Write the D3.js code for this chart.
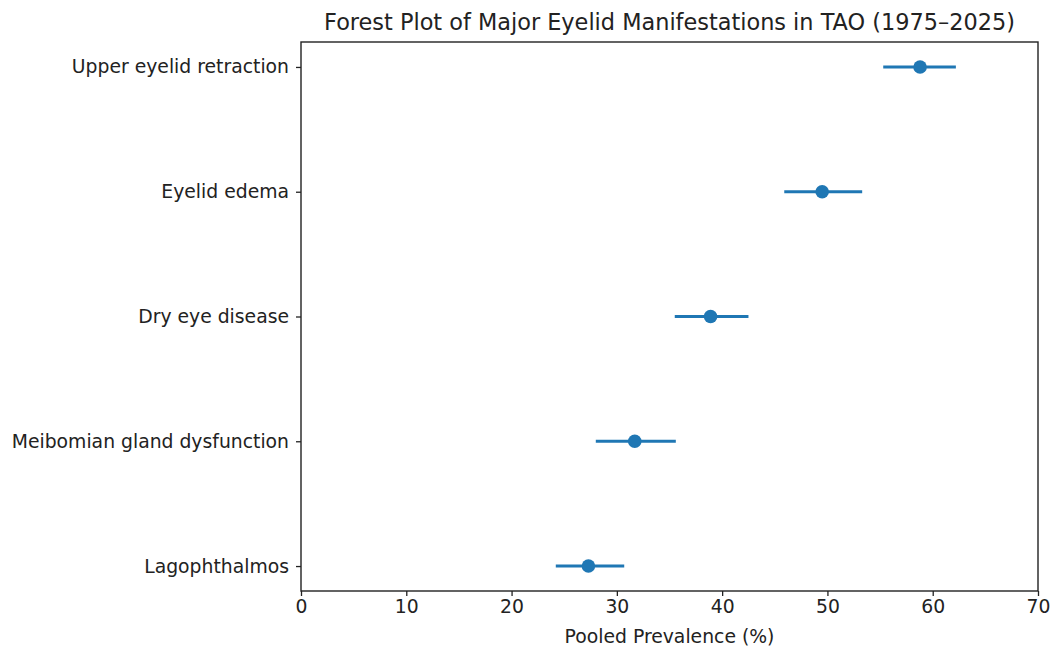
<!DOCTYPE html>
<html><head><meta charset="utf-8">
<script src="https://cdn.jsdelivr.net/npm/d3@7"></script>
<style>body{margin:0;background:#fff}svg{display:block}</style>
</head><body>
<script>
const categories = ["Lagophthalmos","Meibomian gland dysfunction","Dry eye disease","Eyelid edema","Upper eyelid retraction"];
const estimates = [27.3, 31.7, 38.9, 49.5, 58.8];
const lower = [24.2, 28.0, 35.5, 45.9, 55.3];
const upper = [30.7, 35.6, 42.5, 53.3, 62.2];
const xTicks = [0,10,20,30,40,50,60,70];
const title = "Forest Plot of Major Eyelid Manifestations in TAO (1975–2025)";
const xLabel = "Pooled Prevalence (%)";

const W=1052,H=648;
const m={left:301,right:1052-1038,top:42,bottom:648-591};
const svg=d3.select("body").append("svg").attr("width",W).attr("height",H)
  .style("font-family","DejaVu Sans");
const x=d3.scaleLinear().domain([0,70]).range([m.left,W-m.right]);
const y=d3.scaleLinear().domain([-0.2,4.2]).range([H-m.bottom,m.top]);
const color="#1f77b4";
const ink="#222";

const xa=svg.append("g").attr("transform",`translate(0,${H-m.bottom})`)
  .call(d3.axisBottom(x).tickValues(xTicks).tickSize(5).tickPadding(4));
xa.selectAll("text").attr("font-size","18.8px").attr("fill",ink).attr("font-family","DejaVu Sans");
xa.selectAll("line").attr("stroke",ink).attr("stroke-width",1.3);
xa.select(".domain").remove();

const ya=svg.append("g").attr("transform",`translate(${m.left},0)`)
  .call(d3.axisLeft(y).tickValues(d3.range(categories.length)).tickFormat(i=>categories[i]).tickSize(5).tickPadding(7));
ya.selectAll("text").attr("font-size","18.8px").attr("fill",ink).attr("font-family","DejaVu Sans");
ya.selectAll("line").attr("stroke",ink).attr("stroke-width",1.3);
ya.select(".domain").remove();

svg.append("rect").attr("x",m.left).attr("y",m.top)
  .attr("width",W-m.right-m.left).attr("height",H-m.bottom-m.top)
  .attr("fill","none").attr("stroke",ink).attr("stroke-width",1.4);

const g=svg.append("g");
categories.forEach((c,i)=>{
  g.append("line").attr("x1",x(lower[i])).attr("x2",x(upper[i]))
    .attr("y1",y(i)).attr("y2",y(i)).attr("stroke",color).attr("stroke-width",3);
  g.append("circle").attr("cx",x(estimates[i])).attr("cy",y(i)).attr("r",6.8).attr("fill",color);
});

svg.append("text").attr("x",(m.left+W-m.right)/2).attr("y",30).attr("text-anchor","middle")
  .attr("font-size","22.4px").attr("fill",ink).text(title);
svg.append("text").attr("x",(m.left+W-m.right)/2).attr("y",643).attr("text-anchor","middle")
  .attr("font-size","18.8px").attr("fill",ink).text(xLabel);
</script>
</body></html>
